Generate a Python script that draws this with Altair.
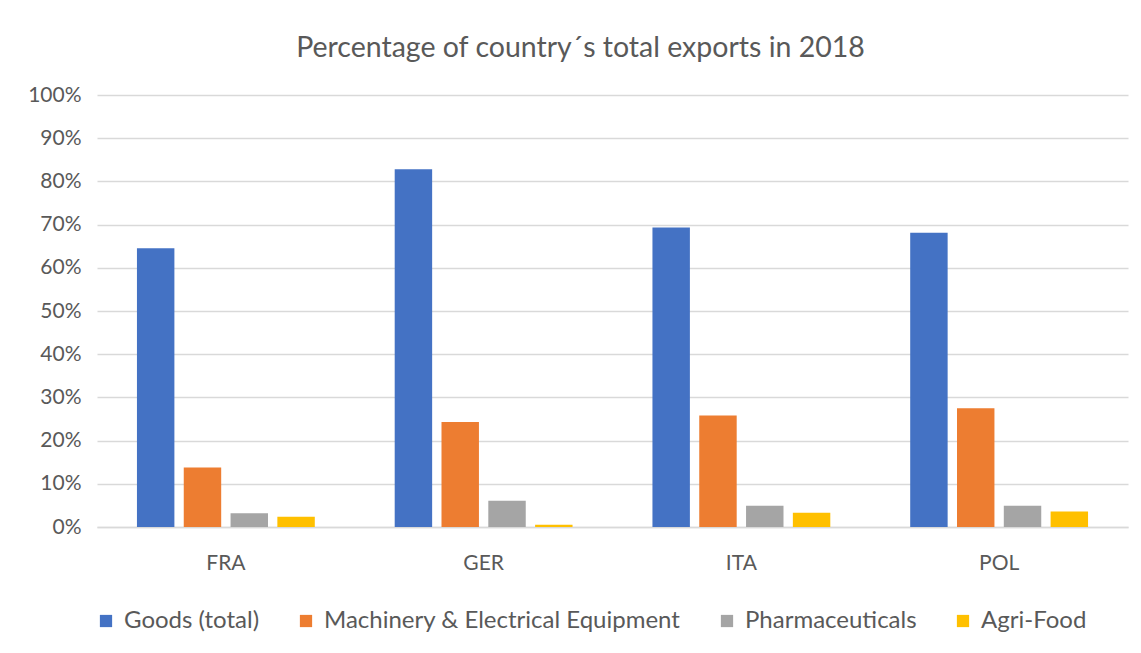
import altair as alt
import pandas as pd

countries = ["FRA", "GER", "ITA", "POL"]
series = ["Goods (total)", "Machinery & Electrical Equipment", "Pharmaceuticals", "Agri-Food"]
goods = [64.5, 82.8, 69.3, 68.1]
machinery = [13.8, 24.3, 25.8, 27.5]
pharma = [3.2, 6.1, 4.9, 4.9]
agrifood = [2.4, 0.5, 3.3, 3.6]
colors = ["#4472C4", "#ED7D31", "#A5A5A5", "#FFC000"]

rows = []
for s, vals in zip(series, [goods, machinery, pharma, agrifood]):
    for c, v in zip(countries, vals):
        rows.append({"country": c, "series": s, "value": v / 100.0})
df = pd.DataFrame(rows)

FONT = "Lato"
GRAY = "#595959"

chart = alt.Chart(df).mark_bar().encode(
    x=alt.X("country:N", sort=countries, title=None,
            scale=alt.Scale(paddingInner=0.31, paddingOuter=0.155),
            axis=alt.Axis(labelAngle=0, labelFontSize=21, labelColor=GRAY, labelFont=FONT,
                          labelPadding=25, ticks=False, domainColor="#d9d9d9", domainWidth=1.5)),
    xOffset=alt.XOffset("series:N", sort=series,
                        scale=alt.Scale(paddingInner=0.2, paddingOuter=0)),
    y=alt.Y("value:Q", title=None,
            scale=alt.Scale(domain=[0, 1]),
            axis=alt.Axis(format=".0%", values=[i / 10 for i in range(11)], labelFontSize=21,
                          labelColor=GRAY, labelFont=FONT, labelPadding=16, ticks=False,
                          domain=False, gridColor="#d9d9d9", gridWidth=1.5)),
    color=alt.Color("series:N", sort=series,
                    scale=alt.Scale(domain=series, range=colors),
                    legend=alt.Legend(title=None, orient="none", direction="horizontal",
                                      legendX=-3, legendY=514,
                                      symbolType="square", symbolSize=150, symbolStrokeWidth=0,
                                      labelFontSize=24, labelColor=GRAY, labelFont=FONT,
                                      labelLimit=0, labelOffset=6, columnPadding=34)),
).properties(
    width=1031,
    height=432,
    title=alt.TitleParams("Percentage of country´s total exports in 2018", fontSize=28.5,
                          font=FONT, color=GRAY, fontWeight="normal", offset=22, dx=-32),
    autosize=alt.AutoSizeParams(type="none"),
    padding={"left": 89, "top": 87, "right": 5, "bottom": 110},
).configure_view(stroke=None)

chart.save("out.html", embed_options={"renderer": "svg", "actions": False})
